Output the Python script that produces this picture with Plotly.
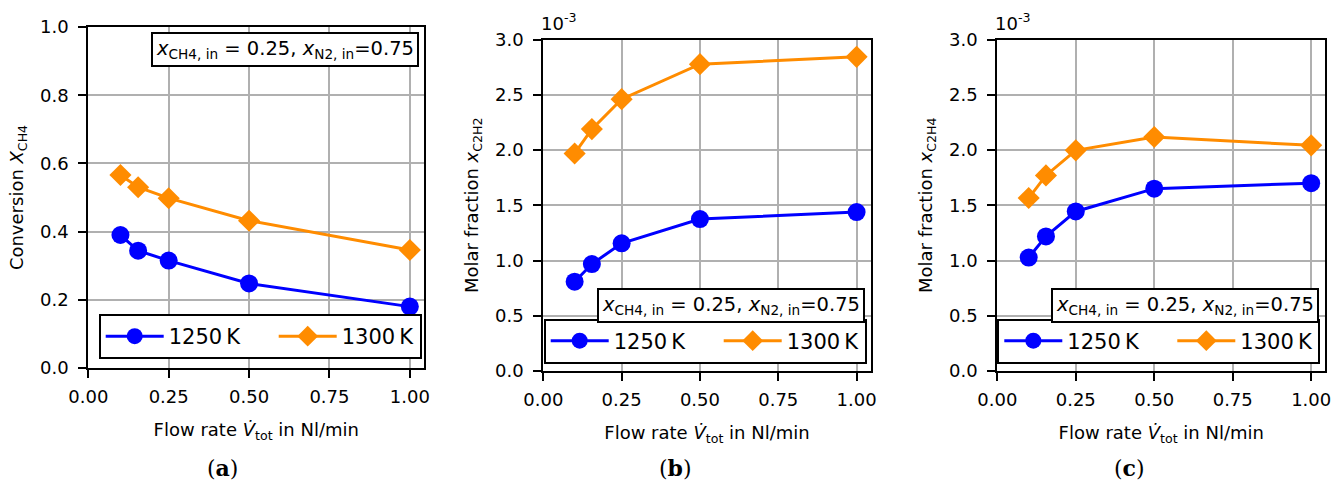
import plotly.graph_objects as go

# ---------------- data ----------------
flow = [0.1, 0.155, 0.25, 0.5, 1.0]                 # Nl/min
conv_1250 = [0.390, 0.344, 0.315, 0.248, 0.180]
conv_1300 = [0.566, 0.530, 0.498, 0.432, 0.346]
c2h2_1250 = [0.808, 0.968, 1.155, 1.375, 1.438]     # x 1e-3
c2h2_1300 = [1.969, 2.189, 2.460, 2.777, 2.843]
c2h4_1250 = [1.027, 1.218, 1.444, 1.650, 1.700]
c2h4_1300 = [1.565, 1.770, 1.997, 2.118, 2.042]
series_names = ["1250\u2009K", "1300\u2009K"]
x_ticks = [0, 0.25, 0.5, 0.75, 1.0]
y_ticks_a = [0, 0.2, 0.4, 0.6, 0.8, 1.0]
y_ticks_bc = [0, 0.5, 1.0, 1.5, 2.0, 2.5, 3.0]
panel_labels = ["(<b>a</b>)", "(<b>b</b>)", "(<b>c</b>)"]
y_titles = ["Conversion <i>X</i><sub>CH4</sub>",
            "Molar fraction <i>x</i><sub>C2H2</sub>",
            "Molar fraction <i>x</i><sub>C2H4</sub>"]
x_title = "Flow rate <i>V\u0307</i><sub>tot</sub> in Nl/min"
inlet_text = "<i>x</i><sub>CH4, in</sub> = 0.25, <i>x</i><sub>N2, in</sub>=0.75"

W, H = 1343, 487
FONT = "DejaVu Sans"
BLUE = "#0000ff"
ORANGE = "#ff8c00"

def px(x):
    return x / W

def py(y):
    return 1 - y / H

# panel geometry (pixels)
panels = [
    dict(x0=88.3, x1=424.3, y0=27.0, y1=368.0, yr=[0, 1.0], yt=y_ticks_a,
         data=(conv_1250, conv_1300)),
    dict(x0=543.3, x1=870.7, y0=39.5, y1=371.0, yr=[0, 3.0], yt=y_ticks_bc,
         data=(c2h2_1250, c2h2_1300)),
    dict(x0=997.3, x1=1325.3, y0=39.5, y1=371.0, yr=[0, 3.0], yt=y_ticks_bc,
         data=(c2h4_1250, c2h4_1300)),
]

fig = go.Figure()
layout = dict(width=W, height=H, margin=dict(l=0, r=0, t=0, b=0, autoexpand=False),
              paper_bgcolor="white", plot_bgcolor="white",
              font=dict(family=FONT, size=18, color="black"),
              annotations=[], showlegend=True)

for i, p in enumerate(panels):
    n = "" if i == 0 else str(i + 1)
    xa, ya = "x" + n, "y" + n
    leg = "legend" + n
    y1250, y1300 = p["data"]
    fig.add_trace(go.Scatter(x=flow, y=y1250, mode="lines+markers", name=series_names[0],
                             xaxis=xa, yaxis=ya, legend=leg, legendwidth=100,
                             line=dict(color=BLUE, width=3),
                             marker=dict(symbol="circle", size=18, color=BLUE)))
    fig.add_trace(go.Scatter(x=flow, y=y1300, mode="lines+markers", name=series_names[1],
                             xaxis=xa, yaxis=ya, legend=leg,
                             line=dict(color=ORANGE, width=3),
                             marker=dict(symbol="diamond", size=17, color=ORANGE)))
    axis_common = dict(showgrid=True, gridcolor="#b0b0b0", gridwidth=1.6,
                       showline=True, linecolor="black", linewidth=2, mirror=True,
                       ticks="outside", ticklen=8, tickwidth=2, tickcolor="black",
                       zeroline=False, automargin=False,
                       tickfont=dict(size=18, family=FONT))
    layout["xaxis" + n] = dict(axis_common, domain=[px(p["x0"]), px(p["x1"])],
                               range=[0, 1.045], tickvals=x_ticks, tickformat=".2f",
                               anchor=ya, ticklabelstandoff=3,
                               title=dict(text=x_title, font=dict(size=18), standoff=18))
    layout["yaxis" + n] = dict(axis_common, domain=[py(p["y1"]), py(p["y0"])],
                               range=p["yr"], tickvals=p["yt"], tickformat=".1f",
                               anchor=xa, ticklabelstandoff=6,
                               title=dict(text=y_titles[i], font=dict(size=18), standoff=12))
    # legend (bottom chosen so that the legend is centred on the reference box)
    leg_right = [421.7, 866.7, 1320.3][i]
    leg_bottom = [359.0, 363.5, 363.5][i]
    layout[leg] = dict(orientation="h", x=px(leg_right), xanchor="right",
                       y=py(leg_bottom), yanchor="bottom",
                       bgcolor="white", bordercolor="black", borderwidth=2,
                       font=dict(size=21, family=FONT), itemwidth=58)
    # panel label
    layout["annotations"].append(dict(
        text=panel_labels[i], xref="paper", yref="paper",
        x=px([222, 675.7, 1129][i]), y=py(468), xanchor="center", yanchor="middle",
        showarrow=False, font=dict(size=22, family="DejaVu Serif")))
    # inlet composition box
    box_right = [419.0, 865.0, 1319.0][i]
    box_top = [32.0, 288.0, 288.0][i]
    layout["annotations"].append(dict(
        text=inlet_text, xref="paper", yref="paper",
        x=px(box_right), y=py(box_top), xanchor="right", yanchor="top",
        showarrow=False, bgcolor="white", bordercolor="black", borderwidth=2,
        borderpad=3, font=dict(size=19.5, family=FONT)))
    if i > 0:
        layout["annotations"].append(dict(
            text="10<sup>-3</sup>", xref="paper", yref="paper",
            x=px(p["x0"] - 4), y=py(p["y0"] - 4), xanchor="left", yanchor="bottom",
            showarrow=False, font=dict(size=18, family=FONT)))

fig.update_layout(**layout)
fig.write_html("out.html", config={"displayModeBar": False},
               post_script="document.body.style.margin='0';document.body.style.overflow='hidden';")
